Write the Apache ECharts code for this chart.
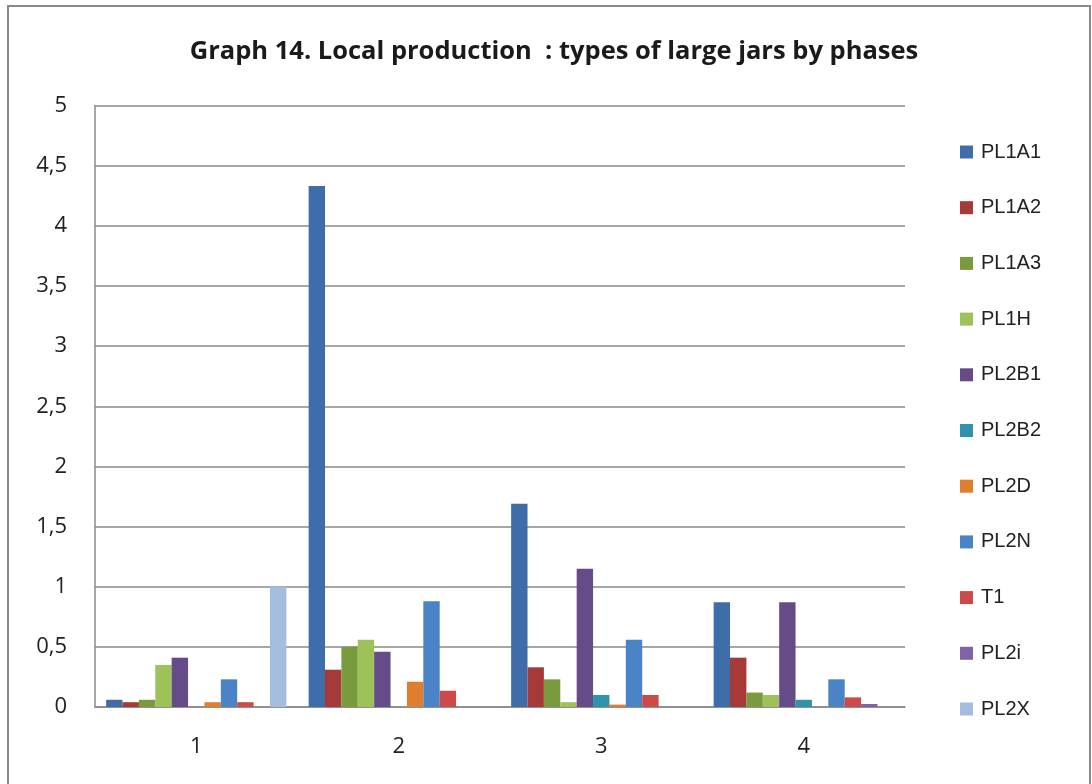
<!DOCTYPE html>
<html>
<head>
<meta charset="utf-8">
<script src="https://cdn.jsdelivr.net/npm/echarts@6/dist/echarts.min.js"></script>
<style>
html,body{margin:0;padding:0;background:#fff;}
#chart{width:1092px;height:784px;}
</style>
</head>
<body>
<div id="chart"></div>
<script>
const categories = ['1', '2', '3', '4'];
const seriesNames = ['PL1A1', 'PL1A2', 'PL1A3', 'PL1H', 'PL2B1', 'PL2B2', 'PL2D', 'PL2N', 'T1', 'PL2i', 'PL2X'];
const PL1A1 = [0.06, 4.33, 1.69, 0.87];
const PL1A2 = [0.04, 0.31, 0.33, 0.41];
const PL1A3 = [0.06, 0.50, 0.23, 0.12];
const PL1H  = [0.35, 0.56, 0.04, 0.10];
const PL2B1 = [0.41, 0.46, 1.15, 0.87];
const PL2B2 = [0, 0, 0.10, 0.06];
const PL2D  = [0.04, 0.21, 0.02, 0];
const PL2N  = [0.23, 0.88, 0.56, 0.23];
const T1    = [0.04, 0.135, 0.10, 0.08];
const PL2i  = [0, 0, 0, 0.025];
const PL2X  = [1.0, 0, 0, 0];
const yTicks = ['0', '0,5', '1', '1,5', '2', '2,5', '3', '3,5', '4', '4,5', '5'];
const colors = ['#3E6DA9', '#A63A38', '#7A9A3E', '#9DC25A', '#654C89', '#2F93AC', '#E07E2E', '#4A84C6', '#CC4A48', '#7F62A8', '#A4BCDD'];

const seriesData = [PL1A1, PL1A2, PL1A3, PL1H, PL2B1, PL2B2, PL2D, PL2N, T1, PL2i, PL2X];

const chart = echarts.init(document.getElementById('chart'));
chart.setOption({
  animation: false,
  backgroundColor: '#fff',
  color: colors,
  title: {
    text: 'Graph 14. Local production  : types of large jars by phases',
    left: 549, top: 34, textAlign: 'center',
    textStyle: { fontFamily: 'Open Sans', fontWeight: 'bold', fontSize: 25.5, color: '#1a1a1a' }
  },
  graphic: [{
    type: 'rect', shape: { x: 8, y: 6, width: 1082, height: 800 },
    style: { fill: 'none', stroke: '#8a8a8a', lineWidth: 2 }, silent: true
  }],
  legend: {
    orient: 'vertical', left: 955, top: 137, itemGap: 35.7,
    itemWidth: 13, itemHeight: 13, icon: 'rect',
    textStyle: { fontFamily: 'Liberation Sans', fontSize: 20, lineHeight: 20, color: '#222', padding: [0, 0, 0, 3] },
    data: seriesNames
  },
  grid: { left: 95, right: 187, top: 105.5, bottom: 77 },
  xAxis: {
    type: 'category', data: categories,
    axisLine: { lineStyle: { color: '#8a8a8a', width: 1.5 } },
    axisTick: { show: false },
    axisLabel: { fontFamily: 'Open Sans', fontSize: 22, color: '#222', margin: 29 }
  },
  yAxis: {
    type: 'value', min: 0, max: 5, interval: 0.5,
    axisLine: { show: true, lineStyle: { color: '#8a8a8a', width: 1.5 } },
    axisTick: { show: false },
    splitLine: { lineStyle: { color: '#8a8a8a', width: 1.5 } },
    axisLabel: {
      fontFamily: 'Open Sans', fontSize: 22, color: '#222', margin: 28,
      formatter: function (v) { return yTicks[Math.round(v * 2)]; }
    }
  },
  series: seriesNames.map(function (n, i) {
    return { name: n, type: 'bar', data: seriesData[i], barGap: '0%', barCategoryGap: '11%' };
  })
});
</script>
</body>
</html>
